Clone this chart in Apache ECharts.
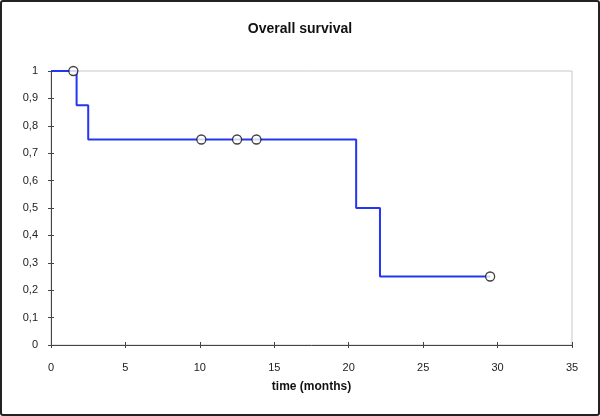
<!DOCTYPE html>
<html><head><meta charset="utf-8">
<script src="https://cdn.jsdelivr.net/npm/echarts@6/dist/echarts.min.js"></script>
<style>html,body{margin:0;padding:0;background:#fff}#c{width:600px;height:416px}</style>
</head><body><div id="c"></div>
<script>
// Kaplan-Meier step curve (time in months, survival)
const stepTimes = [0, 1.72, 2.5, 20.5, 22.1, 29.5];
const stepSurvival = [1, 0.875, 0.75, 0.5, 0.25, 0.25];
// Censored observations
const censorTimes = [1.5, 10.1, 12.5, 13.8, 29.5];
const censorSurvival = [1, 0.75, 0.75, 0.75, 0.25];
const titleText = 'Overall survival';
const xName = 'time (months)';

const chart = echarts.init(document.getElementById('c'));
const font = 'Liberation Sans, Arial, sans-serif';
const axisCol = '#444';
chart.setOption({
  animation: false,
  title: {text: titleText, left: 'center', top: 17,
    textStyle: {fontFamily: font, fontSize: 14, fontWeight: 'bold', color: '#111'}},
  graphic: [{type: 'rect', shape: {x: 1, y: 1, width: 598, height: 414, r: 2},
    style: {fill: 'none', stroke: '#222', lineWidth: 2}, z: 100}],
  grid: {left: 51, right: 28, top: 71, bottom: 71, show: true, borderColor: '#c8c8c8', borderWidth: 1},
  xAxis: [{type: 'value', min: 0, max: 35, interval: 5, name: xName, nameLocation: 'middle', nameGap: 36,
    nameTextStyle: {fontFamily: font, fontSize: 12, fontWeight: 'bold', color: '#111'},
    axisLine: {lineStyle: {color: axisCol, width: 1}},
    axisTick: {length: 3, lineStyle: {color: axisCol}},
    axisLabel: {fontFamily: font, fontSize: 11, color: '#222', margin: 17},
    splitLine: {show: false}},
   {type: 'value', min: 0, max: 35, interval: 5, position: 'bottom',
    axisLine: {show: false}, axisTick: {inside: true, length: 3, lineStyle: {color: axisCol}},
    axisLabel: {show: false}, splitLine: {show: false}}],
  yAxis: [{type: 'value', min: 0, max: 1, interval: 0.1,
    axisLine: {show: true, lineStyle: {color: axisCol, width: 1}},
    axisTick: {show: true, length: 3, lineStyle: {color: axisCol}},
    axisLabel: {fontFamily: font, fontSize: 11, color: '#222', margin: 13,
      formatter: v => String(Math.round(v * 10) / 10).replace('.', ',')},
    splitLine: {show: false}},
   {type: 'value', min: 0, max: 1, interval: 0.1, position: 'left',
    axisLine: {show: false}, axisTick: {show: true, inside: true, length: 3, lineStyle: {color: axisCol}},
    axisLabel: {show: false}, splitLine: {show: false}}],
  series: [
    {type: 'line', step: 'end', showSymbol: false, symbol: 'none',
     lineStyle: {color: '#2436f0', width: 2},
     data: stepTimes.map((t, i) => [t, stepSurvival[i]]), z: 3},
    {type: 'scatter', symbol: 'circle', symbolSize: 9,
     itemStyle: {color: '#fff', borderColor: '#111', borderWidth: 1.3},
     data: censorTimes.map((t, i) => [t, censorSurvival[i]]), z: 5}
  ]
});
</script></body></html>
